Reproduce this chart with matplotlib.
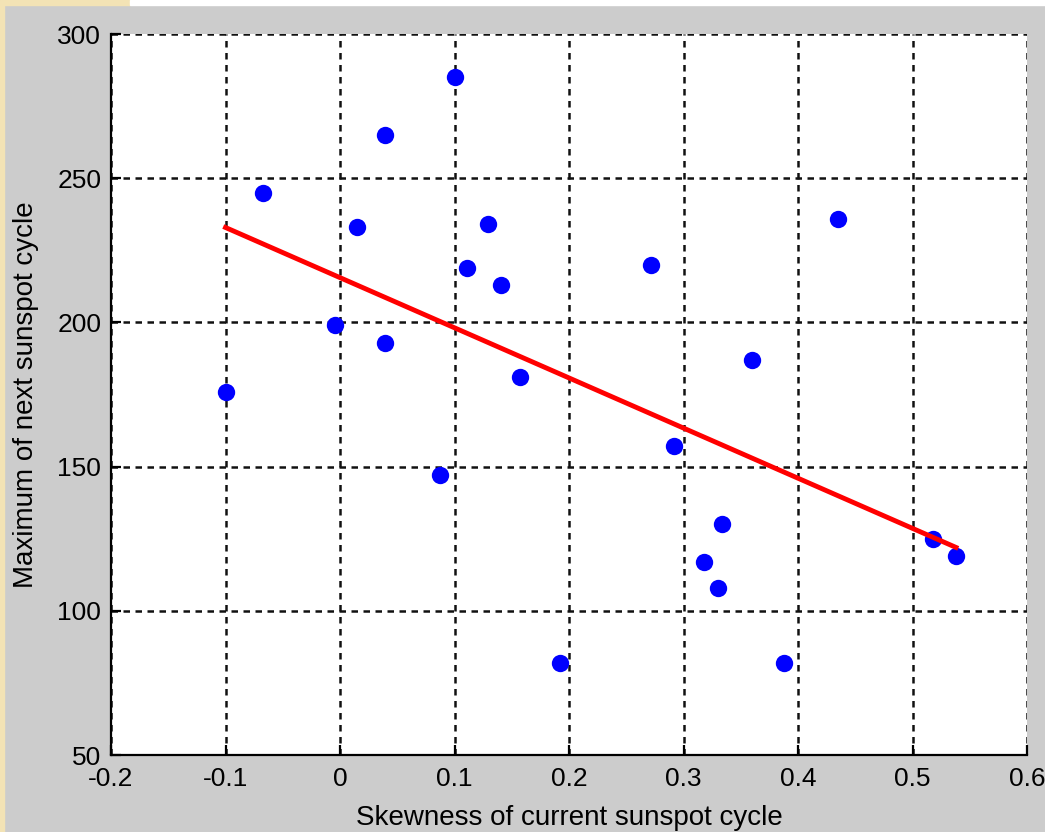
import numpy as np
import matplotlib.pyplot as plt
from matplotlib.patches import Rectangle

# skewness of current cycle vs maximum of the next cycle
skewness = [-0.100, -0.067, -0.004, 0.015, 0.039, 0.039, 0.087, 0.100, 0.111, 0.129,
            0.141, 0.157, 0.192, 0.272, 0.292, 0.318, 0.330, 0.334, 0.360, 0.388,
            0.435, 0.518, 0.538]
next_max = [176, 245, 199, 233, 265, 193, 147, 285, 219, 234,
            213, 181, 82, 220, 157, 117, 108, 130, 187, 82,
            236, 125, 119]

xticks = [-0.2, -0.1, 0, 0.1, 0.2, 0.3, 0.4, 0.5, 0.6]
xticklabels = ['-0.2', '-0.1', '0', '0.1', '0.2', '0.3', '0.4', '0.5', '0.6']
yticks = [50, 100, 150, 200, 250, 300]

plt.rcParams['font.family'] = ['Liberation Sans', 'DejaVu Sans']

fig = plt.figure(figsize=(10.45, 8.32), dpi=100, facecolor='#cccccc')
# slide background peeking in at the edges
fig.patches.append(Rectangle((0, 0), 4 / 1045, 1, transform=fig.transFigure,
                             color='#f3e3b5', zorder=0))
fig.patches.append(Rectangle((0, 1 - 5 / 832), 130 / 1045, 5 / 832, transform=fig.transFigure,
                             color='#f3e3b5', zorder=0))
fig.patches.append(Rectangle((130 / 1045, 1 - 5 / 832), 1, 5 / 832, transform=fig.transFigure,
                             color='white', zorder=0))

ax = fig.add_axes([111 / 1045, 1 - 755 / 832, 916 / 1045, 721 / 832])
ax.set_facecolor('white')

ax.plot(skewness, next_max, 'o', color='blue', markersize=12.5, markeredgewidth=0, zorder=3)

# least squares fit over the data range
k, b = np.polyfit(skewness, next_max, 1)
xs = np.array([min(skewness), max(skewness)])
ax.plot(xs, k * xs + b, color='red', linewidth=3.5, zorder=4)

ax.set_xlim(-0.2, 0.6)
ax.set_ylim(50, 300)
ax.set_xticks(xticks)
ax.set_xticklabels(xticklabels)
ax.set_yticks(yticks)

ax.grid(True, color='#111111', linestyle=(0, (2.6, 2.2)), linewidth=1.8)
ax.set_axisbelow(True)
for side in ['top', 'right']:
    ax.spines[side].set_visible(False)
for side in ['left', 'bottom']:
    ax.spines[side].set_linewidth(1.6)
ax.tick_params(direction='in', length=7, width=1.6, labelsize=19)
ax.tick_params(axis='x', pad=9)
ax.tick_params(axis='y', pad=7)

ax.set_xlabel('Skewness of current sunspot cycle', fontsize=20, labelpad=10)
ax.set_ylabel('Maximum of next sunspot cycle', fontsize=20, labelpad=13)

fig.savefig('out.png', dpi=100, facecolor=fig.get_facecolor())
